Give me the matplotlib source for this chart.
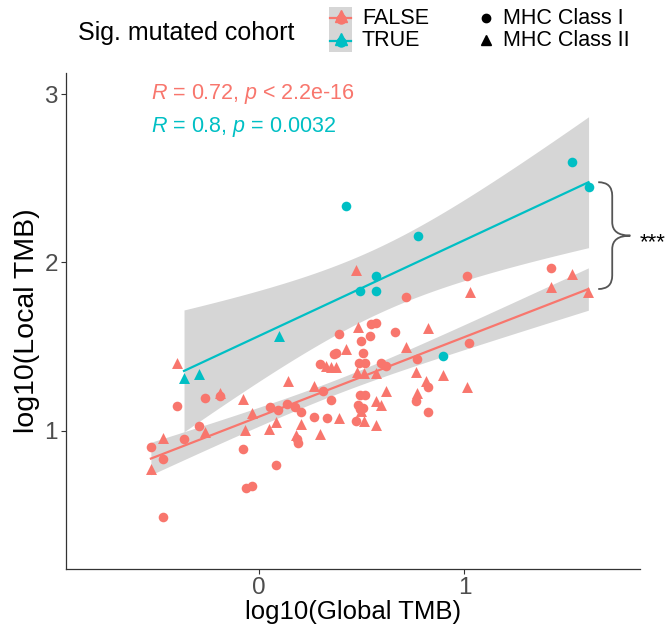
import numpy as np
import matplotlib
matplotlib.use('Agg')
import matplotlib.pyplot as plt
from matplotlib.path import Path
from matplotlib.patches import PathPatch, Rectangle
from matplotlib.lines import Line2D

plt.rcParams['font.family'] = ['Liberation Sans', 'DejaVu Sans']
plt.rcParams['mathtext.fontset'] = 'custom'
plt.rcParams['mathtext.rm'] = 'Liberation Sans'
plt.rcParams['mathtext.it'] = 'Liberation Sans:italic'

# ---------------- data ----------------
# Sig. mutated cohort = FALSE, MHC Class I (circles)
false_c1_x = [-0.524, -0.467, -0.467, -0.395, -0.363, -0.291, -0.262, -0.186, -0.076, -0.063,
              -0.031, 0.053, 0.094, 0.086, 0.137, 0.178, 0.206, 0.187, 0.189, 0.312,
              0.268, 0.332, 0.351, 0.296, 0.364, 0.377, 0.390, 0.487, 0.515, 0.506,
              0.495, 0.542, 0.547, 0.568, 0.664, 0.717, 1.013, 1.422, 1.024, 0.768,
              0.596, 0.621, 0.822, 0.490, 0.516, 0.762, 0.484, 0.493, 0.507, 0.822, 0.473]
false_c1_y = [0.900, 0.829, 0.487, 1.147, 0.948, 1.027, 1.195, 1.205, 0.892, 0.656,
              0.670, 1.141, 1.122, 0.795, 1.158, 1.141, 1.110, 0.948, 0.924, 1.235,
              1.082, 1.074, 1.184, 1.394, 1.452, 1.459, 1.574, 1.400, 1.403, 1.461,
              1.532, 1.564, 1.633, 1.641, 1.584, 1.791, 1.919, 1.964, 1.522, 1.425,
              1.403, 1.385, 1.259, 1.211, 1.211, 1.178, 1.152, 1.125, 1.131, 1.108, 1.059]
# Sig. mutated cohort = FALSE, MHC Class II (triangles)
false_c2_x = [-0.524, -0.465, -0.395, -0.262, -0.189, -0.076, -0.065, -0.031, 0.086, 0.050,
              0.142, 0.207, 0.180, 0.269, 0.390, 0.296, 0.329, 0.353, 0.377, 0.426,
              0.484, 0.471, 1.027, 1.523, 1.422, 1.602, 0.824, 0.717, 0.478, 0.510,
              0.568, 0.762, 0.895, 0.811, 1.012, 0.620, 0.767, 0.568, 0.596, 0.497,
              0.512, 0.568]
false_c2_y = [0.771, 0.957, 1.403, 0.989, 1.221, 1.187, 1.003, 1.106, 1.052, 1.007,
              1.293, 1.039, 0.973, 1.263, 1.073, 0.977, 1.386, 1.379, 1.378, 1.485,
              1.617, 1.954, 1.823, 1.933, 1.851, 1.826, 1.612, 1.498, 1.345, 1.339,
              1.340, 1.345, 1.333, 1.296, 1.257, 1.237, 1.226, 1.178, 1.153, 1.119,
              1.059, 1.032]
# Sig. mutated cohort = TRUE
true_c1_x = [0.426, 0.490, 0.570, 0.568, 0.773, 0.895, 1.523, 1.603]
true_c1_y = [2.337, 1.831, 1.829, 1.919, 2.156, 1.443, 2.595, 2.449]
true_c2_x = [-0.363, -0.291, 0.097]
true_c2_y = [1.310, 1.334, 1.562]

cor_labels = {'FALSE': r'$\it{R}$ = 0.72, $\it{p}$ < 2.2e-16',
              'TRUE': r'$\it{R}$ = 0.8, $\it{p}$ = 0.0032'}
signif_label = '***'
x_ticks = [0, 1]
y_ticks = [1, 2, 3]

COL_F = '#F8766D'
COL_T = '#00BFC4'
RIBBON = '#999999'


def t_quantile(df, z=1.959964):
    z3, z5, z7 = z**3, z**5, z**7
    return (z + (z3 + z) / (4 * df) + (5 * z5 + 16 * z3 + 3 * z) / (96 * df**2)
            + (3 * z7 + 19 * z5 + 17 * z3 - 15 * z) / (384 * df**3))


def lm_band(x, y, n=100):
    x = np.asarray(x, float)
    y = np.asarray(y, float)
    b, a = np.polyfit(x, y, 1)
    xs = np.linspace(x.min(), x.max(), n)
    fit = a + b * xs
    dof = len(x) - 2
    s = np.sqrt(np.sum((y - (a + b * x))**2) / dof)
    sxx = np.sum((x - x.mean())**2)
    se = s * np.sqrt(1 / len(x) + (xs - x.mean())**2 / sxx)
    t = t_quantile(dof)
    return xs, fit, fit - t * se, fit + t * se


fig = plt.figure(figsize=(6.72, 6.31), dpi=100)
W, H = 672, 631
ax = fig.add_axes([65.7 / W, 1 - 569 / H, (640 - 65.7) / W, (569 - 73) / H])

fx = false_c1_x + false_c2_x
fy = false_c1_y + false_c2_y
tx = true_c1_x + true_c2_x
ty = true_c1_y + true_c2_y

ends = {}
for gx, gy, col, key in [(fx, fy, COL_F, 'FALSE'), (tx, ty, COL_T, 'TRUE')]:
    xs, fit, lo, hi = lm_band(gx, gy)
    ax.fill_between(xs, lo, hi, color=RIBBON, alpha=0.4, lw=0, zorder=1)
    ax.plot(xs, fit, color=col, lw=1.6, zorder=2)
    ends[key] = (xs[-1], fit[-1])

ax.scatter(false_c1_x, false_c1_y, s=48, marker='o', color=COL_F, lw=0, zorder=3)
ax.scatter(false_c2_x, false_c2_y, s=62, marker='^', color=COL_F, lw=0, zorder=3)
ax.scatter(true_c1_x, true_c1_y, s=48, marker='o', color=COL_T, lw=0, zorder=3)
ax.scatter(true_c2_x, true_c2_y, s=62, marker='^', color=COL_T, lw=0, zorder=3)

ax.set_xlim(-0.938, 1.853)
ax.set_ylim(0.177, 3.125)
ax.set_xticks(x_ticks)
ax.set_yticks(y_ticks)
ax.set_xticklabels([str(v) for v in x_ticks])
ax.set_yticklabels([str(v) for v in y_ticks])
for sp in ['top', 'right']:
    ax.spines[sp].set_visible(False)
for sp in ['left', 'bottom']:
    ax.spines[sp].set_color('#333333')
    ax.spines[sp].set_linewidth(0.9)
ax.tick_params(axis='both', length=3.6, width=0.8, color='#333333',
               labelcolor='#4D4D4D', labelsize=17.5, pad=2)
ax.set_xlabel('log10(Global TMB)', fontsize=18.5, labelpad=1)
ax.set_ylabel('log10(Local TMB)', fontsize=20.5, labelpad=3)

# correlation labels
xmin_all = min(min(fx), min(tx))
ax.text(xmin_all, 3.0, cor_labels['FALSE'], color=COL_F, fontsize=15.5, va='center', ha='left')
ax.text(xmin_all, 2.804, cor_labels['TRUE'], color=COL_T, fontsize=15.5, va='center', ha='left')

# curly brace between the two fitted-line ends
yt = ends['TRUE'][1]
yb = ends['FALSE'][1]
ym = (yt + yb) / 2
x0, xm, xt = 1.650, 1.718, 1.806
r = 0.08
verts = [(x0, yt), (xm, yt), (xm, yt - r), (xm, ym + r), (xm, ym), (xt, ym),
         (xm, ym), (xm, ym - r), (xm, yb + r), (xm, yb), (x0, yb)]
codes = [Path.MOVETO, Path.CURVE3, Path.CURVE3, Path.LINETO, Path.CURVE3, Path.CURVE3,
         Path.CURVE3, Path.CURVE3, Path.LINETO, Path.CURVE3, Path.CURVE3]
brace = PathPatch(Path(verts, codes), fill=False, edgecolor='#555555', lw=1.3, clip_on=False, zorder=4)
ax.add_patch(brace)
ax.annotate(signif_label, xy=(xt, ym), xytext=(7, -9), textcoords='offset points',
            fontsize=16, va='baseline', ha='left', annotation_clip=False)

# ---------------- legend (top) ----------------
def fx_(px):
    return px / W


def fy_(py):
    return 1 - py / H


fig.text(fx_(78), fy_(33), 'Sig. mutated cohort', fontsize=18, va='center', ha='left')
fig.add_artist(Rectangle((fx_(329), fy_(52)), fx_(352) - fx_(329), fy_(7) - fy_(52),
                         transform=fig.transFigure, facecolor='#D6D6D6', edgecolor='none'))
for py, col, lab in [(18, COL_F, 'FALSE'), (41, COL_T, 'TRUE')]:
    fig.add_artist(Line2D([fx_(330), fx_(351)], [fy_(py), fy_(py)], transform=fig.transFigure,
                          color=col, lw=1.6))
    fig.add_artist(Line2D([fx_(340.5)], [fy_(py - 2)], transform=fig.transFigure, marker='^',
                          markersize=8, color=col, lw=0))
    fig.add_artist(Line2D([fx_(340.5)], [fy_(py + 1)], transform=fig.transFigure, marker='o',
                          markersize=6.5, color=col, lw=0))
    fig.text(fx_(362), fy_(py), lab, fontsize=15.5, va='center', ha='left')

for py, mk, ms, lab in [(18, 'o', 6, 'MHC Class I'), (40, '^', 7, 'MHC Class II')]:
    fig.add_artist(Line2D([fx_(486)], [fy_(py)], transform=fig.transFigure, marker=mk,
                          markersize=ms, color='black', lw=0))
    fig.text(fx_(503), fy_(py), lab, fontsize=15.5, va='center', ha='left')

fig.savefig('out.png', dpi=100)
